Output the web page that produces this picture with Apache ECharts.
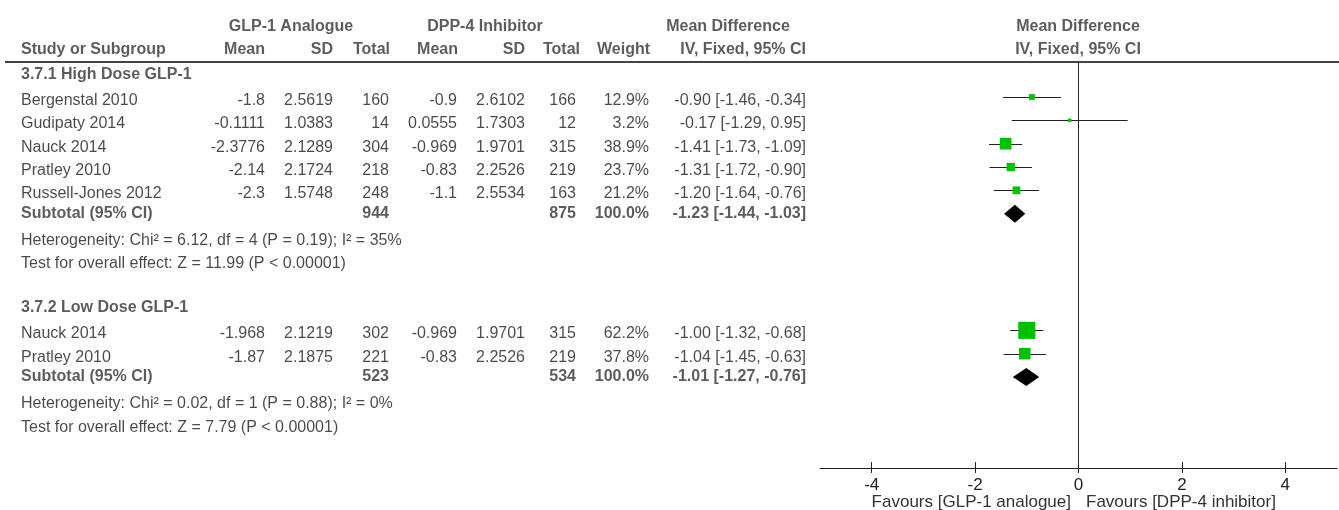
<!DOCTYPE html>
<html>
<head>
<meta charset="utf-8">
<script src="https://cdn.jsdelivr.net/npm/echarts@6/dist/echarts.min.js"></script>
<style>
  html, body { margin: 0; padding: 0; background: #fff; }
  #forest { width: 1339px; height: 510px; }
</style>
</head>
<body>
<div id="forest"></div>
<script>
// --- data ---
var studies = ['Bergenstal 2010', 'Gudipaty 2014', 'Nauck 2014', 'Pratley 2010', 'Russell-Jones 2012', 'Nauck 2014', 'Pratley 2010']
var subgroupOf = [0, 0, 0, 0, 0, 1, 1]
var glpMean = [-1.8, -0.1111, -2.3776, -2.14, -2.3, -1.968, -1.87]
var glpSD = [2.5619, 1.0383, 2.1289, 2.1724, 1.5748, 2.1219, 2.1875]
var glpN = [160, 14, 304, 218, 248, 302, 221]
var dppMean = [-0.9, 0.0555, -0.969, -0.83, -1.1, -0.969, -0.83]
var dppSD = [2.6102, 1.7303, 1.9701, 2.2526, 2.5534, 1.9701, 2.2526]
var dppN = [166, 12, 315, 219, 163, 315, 219]
var weight = [12.9, 3.2, 38.9, 23.7, 21.2, 62.2, 37.8]
var md = [-0.90, -0.17, -1.41, -1.31, -1.20, -1.00, -1.04]
var mdLo = [-1.46, -1.29, -1.73, -1.72, -1.64, -1.32, -1.45]
var mdHi = [-0.34, 0.95, -1.09, -0.90, -0.76, -0.68, -0.63]

var subgroups = ['3.7.1 High Dose GLP-1', '3.7.2 Low Dose GLP-1']
var subGlpN = [944, 523]
var subDppN = [875, 534]
var subMd = [-1.23, -1.01]
var subLo = [-1.44, -1.27]
var subHi = [-1.03, -0.76]
var hetText = ['Heterogeneity: Chi² = 6.12, df = 4 (P = 0.19); I² = 35%', 'Heterogeneity: Chi² = 0.02, df = 1 (P = 0.88); I² = 0%']
var effectText = ['Test for overall effect: Z = 11.99 (P < 0.00001)', 'Test for overall effect: Z = 7.79 (P < 0.00001)']

var groupHeaders = ['GLP-1 Analogue', 'DPP-4 Inhibitor', 'Mean Difference', 'Mean Difference']
var columnHeaders = ['Study or Subgroup', 'Mean', 'SD', 'Total', 'Mean', 'SD', 'Total', 'Weight', 'IV, Fixed, 95% CI', 'IV, Fixed, 95% CI']
var tickValues = [-4, -2, 0, 2, 4]
var favours = ['Favours [GLP-1 analogue]', 'Favours [DPP-4 inhibitor]']

// --- layout (pixels) ---
var groupHeaderX = [291, 485, 728, 1078]
var headerX = [21, 265, 333, 390, 458, 525, 580, 650, 806, 1078]
var headerAlign = ['left', 'right', 'right', 'right', 'right', 'right', 'right', 'right', 'right', 'center']
var colX = [21, 265, 333, 389, 457, 525, 576, 649, 806]
var FONT = 'Liberation Sans, Arial, sans-serif'

function ciText (m, l, h) {
  return m.toFixed(2) + ' [' + l.toFixed(2) + ', ' + h.toFixed(2) + ']'
}

var tableData = []
function put (x, row, text, bold, align, dy) {
  tableData.push({
    value: [x, row],
    text: text,
    label: {
      align: align || 'right',
      fontWeight: bold ? 'bold' : 'normal',
      color: bold ? '#333' : '#1c1c1c',
      offset: [0, dy || 0]
    }
  })
}

groupHeaders.forEach(function (t, i) { put(groupHeaderX[i], -2, t, true, 'center') })
columnHeaders.forEach(function (t, i) { put(headerX[i], -1, t, true, headerAlign[i]) })

var ciData = []
var squareData = []
var diamondData = []
var row = 0
subgroups.forEach(function (name, g) {
  put(colX[0], row, name, true, 'left', 1)
  row++
  studies.forEach(function (s, i) {
    if (subgroupOf[i] !== g) return
    put(colX[0], row, s, false, 'left', 4)
    put(colX[1], row, String(glpMean[i]), false, 'right', 4)
    put(colX[2], row, String(glpSD[i]), false, 'right', 4)
    put(colX[3], row, String(glpN[i]), false, 'right', 4)
    put(colX[4], row, String(dppMean[i]), false, 'right', 4)
    put(colX[5], row, String(dppSD[i]), false, 'right', 4)
    put(colX[6], row, String(dppN[i]), false, 'right', 4)
    put(colX[7], row, weight[i].toFixed(1) + '%', false, 'right', 4)
    put(colX[8], row, ciText(md[i], mdLo[i], mdHi[i]), false, 'right', 4)
    ciData.push([mdLo[i], mdHi[i], row])
    squareData.push([md[i], row, weight[i]])
    row++
  })
  put(colX[0], row, 'Subtotal (95% CI)', true, 'left')
  put(colX[3], row, String(subGlpN[g]), true, 'right')
  put(colX[6], row, String(subDppN[g]), true, 'right')
  put(colX[7], row, '100.0%', true, 'right')
  put(colX[8], row, ciText(subMd[g], subLo[g], subHi[g]), true, 'right')
  diamondData.push([subLo[g], subMd[g], subHi[g], row])
  row++
  put(colX[0], row, hetText[g], false, 'left', 4)
  row++
  put(colX[0], row, effectText[g], false, 'left', 4)
  row += 2
})

var chart = echarts.init(document.getElementById('forest'))
chart.setOption({
  animation: false,
  textStyle: { fontFamily: FONT },
  grid: [
    { left: 5, right: 0, top: 15, height: 453, containLabel: false, outerBoundsMode: 'none' },
    { left: 820, width: 517, top: 62, height: 406, containLabel: false, outerBoundsMode: 'none' }
  ],
  xAxis: [
    { gridIndex: 0, type: 'value', min: 5, max: 1339, show: false },
    {
      gridIndex: 1, type: 'value', min: -5, max: 5, position: 'bottom',
      axisLine: { show: true, onZero: false, lineStyle: { color: '#222', width: 1 } },
      axisTick: { show: true, inside: false, length: 5, lineStyle: { color: '#222' }, customValues: tickValues },
      axisLabel: { show: true, margin: 9, fontSize: 17, color: '#222', fontFamily: FONT, customValues: tickValues },
      splitLine: { show: false }
    },
    {
      gridIndex: 1, type: 'value', min: -5, max: 5, position: 'bottom', offset: 0,
      axisLine: { show: false, onZero: false },
      axisTick: { show: true, inside: true, length: 6, lineStyle: { color: '#222' }, customValues: tickValues },
      axisLabel: { show: false },
      splitLine: { show: false }
    }
  ],
  yAxis: [
    { gridIndex: 0, type: 'value', inverse: true, min: -2.5, max: 16.914, show: false },
    { gridIndex: 1, type: 'value', inverse: true, min: -0.5, max: 16.9, show: false }
  ],
  graphic: [
    { type: 'text', x: 1071, y: 502, style: { text: favours[0], align: 'right', verticalAlign: 'middle', font: '17px ' + FONT, fill: '#333' } },
    { type: 'text', x: 1086, y: 502, style: { text: favours[1], align: 'left', verticalAlign: 'middle', font: '17px ' + FONT, fill: '#333' } }
  ],
  series: [
    {
      name: 'table',
      type: 'scatter',
      xAxisIndex: 0,
      yAxisIndex: 0,
      clip: false,
      silent: true,
      symbolSize: 0.1,
      itemStyle: { color: 'transparent' },
      label: {
        show: true,
        position: 'inside',
        verticalAlign: 'middle',
        fontSize: 16,
        fontFamily: FONT,
        formatter: function (p) { return p.data.text }
      },
      data: tableData,
      markLine: {
        silent: true,
        symbol: 'none',
        label: { show: false },
        lineStyle: { color: '#444', width: 2, type: 'solid' },
        data: [{ yAxis: -0.5 }]
      }
    },
    {
      name: 'ci',
      type: 'custom',
      xAxisIndex: 1,
      yAxisIndex: 1,
      silent: true,
      renderItem: function (params, api) {
        var a = api.coord([api.value(0), api.value(2)])
        var b = api.coord([api.value(1), api.value(2)])
        var y = Math.round(a[1]) + 0.5
        return { type: 'line', shape: { x1: a[0], y1: y, x2: b[0], y2: y }, style: { stroke: '#222', lineWidth: 1 } }
      },
      data: ciData
    },
    {
      name: 'study',
      type: 'scatter',
      xAxisIndex: 1,
      yAxisIndex: 1,
      silent: true,
      symbol: 'rect',
      symbolSize: function (v) { return 2.8 + v[2] * 0.23 },
      itemStyle: { color: '#00c000', opacity: 1 },
      data: squareData,
      markLine: {
        silent: true,
        symbol: 'none',
        label: { show: false },
        lineStyle: { color: '#222', width: 1, type: 'solid' },
        data: [{ xAxis: 0 }]
      }
    },
    {
      name: 'subtotal',
      type: 'custom',
      xAxisIndex: 1,
      yAxisIndex: 1,
      silent: true,
      renderItem: function (params, api) {
        var r = api.value(3)
        var l = api.coord([api.value(0), r])
        var m = api.coord([api.value(1), r])
        var h = api.coord([api.value(2), r])
        return {
          type: 'polygon',
          shape: { points: [[l[0], m[1]], [m[0], m[1] - 9], [h[0], m[1]], [m[0], m[1] + 9]] },
          style: { fill: '#000' }
        }
      },
      data: diamondData
    }
  ]
})
</script>
</body>
</html>
